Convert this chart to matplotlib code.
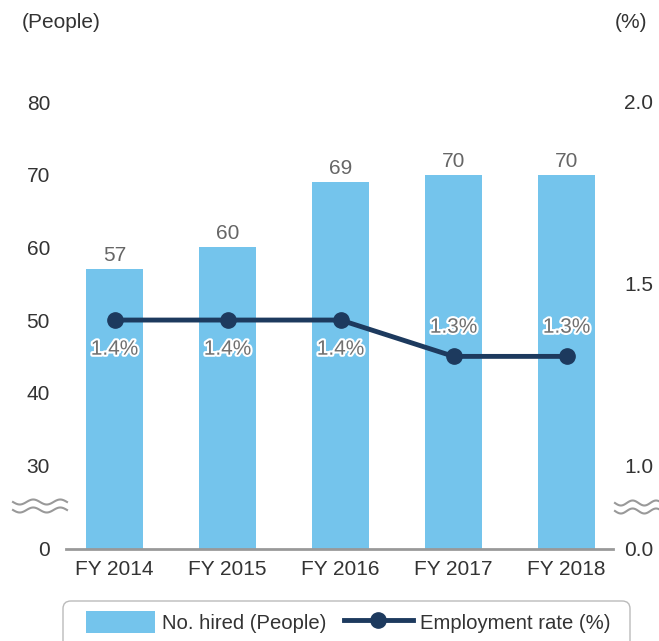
import numpy as np
import matplotlib
matplotlib.use("Agg")
import matplotlib.pyplot as plt
import matplotlib.patheffects as pe
from matplotlib.lines import Line2D
from matplotlib.patches import Patch, FancyBboxPatch

plt.rcParams['font.family'] = ['Liberation Sans', 'DejaVu Sans']

years = ["FY 2014", "FY 2015", "FY 2016", "FY 2017", "FY 2018"]
hired = [57, 60, 69, 70, 70]
rate = [1.4, 1.4, 1.4, 1.3, 1.3]
rate_labels = ["1.4%", "1.4%", "1.4%", "1.3%", "1.3%"]
left_ticks = [0, 30, 40, 50, 60, 70, 80]
right_ticks = [0.0, 1.0, 1.5, 2.0]

BAR_COLOR = "#74c4ec"
LINE_COLOR = "#1d3a5e"
TEXT_COLOR = "#333333"
LABEL_GRAY = "#666666"
FS = 15

# broken axis: 0..30 squeezed into a short stub below 30
ZERO_POS = 18.5


def fwd_people(y):
    y = np.asarray(y, dtype=float)
    return np.where(y >= 30, y, ZERO_POS + y * (30 - ZERO_POS) / 30)


def inv_people(v):
    v = np.asarray(v, dtype=float)
    return np.where(v >= 30, v, (v - ZERO_POS) * 30 / (30 - ZERO_POS))


def fwd_rate(r):
    r = np.asarray(r, dtype=float)
    return np.where(r >= 1, 30 + (r - 1) * 50, ZERO_POS + r * (30 - ZERO_POS))


def inv_rate(v):
    v = np.asarray(v, dtype=float)
    return np.where(v >= 30, 1 + (v - 30) / 50, (v - ZERO_POS) / (30 - ZERO_POS))


W, H = 659, 641
fig = plt.figure(figsize=(W / 100, H / 100), dpi=100)
ax = fig.add_axes([66 / W, (H - 549) / H, (613 - 66) / W, (549 - 102) / H])
ax2 = ax.twinx()

ax.set_yscale('function', functions=(fwd_people, inv_people))
ax2.set_yscale('function', functions=(fwd_rate, inv_rate))

x = np.arange(len(years))
bars = ax.bar(x, hired, width=0.5, color=BAR_COLOR, zorder=2)
for xi, v in zip(x, hired):
    ax.annotate(str(v), (xi, v), xytext=(0, 3), textcoords='offset points',
                ha='center', va='bottom', fontsize=FS, color=LABEL_GRAY)

ax2.plot(x, rate, color=LINE_COLOR, lw=3.5, marker='o', ms=11, zorder=3)
for i, (xi, r) in enumerate(zip(x, rate)):
    dy = -21 if r >= 1.4 else 21
    ax2.annotate(rate_labels[i], (xi, r), xytext=(0, dy), textcoords='offset points',
                 ha='center', va='center', fontsize=FS, color='#707070',
                 path_effects=[pe.withStroke(linewidth=3, foreground='white')])

ax.set_xlim(-0.43, 4.41)
ax.set_ylim(0, 80)
ax2.set_ylim(0, 2.0)

ax.set_xticks(x)
ax.set_xticklabels(years)
ax.set_yticks(left_ticks)
ax.set_yticklabels([str(t) for t in left_ticks])
ax2.set_yticks(right_ticks)
ax2.set_yticklabels([f"{t:.1f}" for t in right_ticks])
for lbl in ax2.get_yticklabels():
    lbl.set_horizontalalignment('right')

ax.tick_params(axis='x', length=0, pad=8, labelsize=FS, labelcolor=TEXT_COLOR)
ax.tick_params(axis='y', length=0, pad=11.5, labelsize=FS, labelcolor=TEXT_COLOR)
ax2.tick_params(axis='y', length=0, pad=29, labelsize=FS, labelcolor=TEXT_COLOR)

for a in (ax, ax2):
    for side in ('top', 'left', 'right', 'bottom'):
        a.spines[side].set_visible(False)
ax.spines['bottom'].set_visible(True)
ax.spines['bottom'].set_color('#999999')
ax.spines['bottom'].set_linewidth(2)

# axis units
fig.text(22 / W, 1 - 22 / H, "(People)", fontsize=FS, color=TEXT_COLOR, va='center')
fig.text(647 / W, 1 - 22 / H, "(%)", fontsize=FS, color=TEXT_COLOR, va='center', ha='right')

# wavy break marks on both sides
def wave(x0, x1, yc):
    px = np.linspace(x0, x1, 80)
    py = yc + 2.5 * np.sin((px - x0) / (x1 - x0) * 4 * np.pi)
    fig.add_artist(Line2D(px / W, 1 - py / H, color='#999999', lw=1.5))

wave(13, 67, 502)
wave(13, 67, 510)
wave(615, 662, 503)
wave(615, 662, 511)

# legend box runs off the bottom edge
fig.add_artist(FancyBboxPatch((63 / W, -0.05), (630 - 63) / W, (H - 601) / H + 0.05,
                              boxstyle='round,pad=0,rounding_size=0.012',
                              transform=fig.transFigure, facecolor='white',
                              edgecolor='#bbbbbb', lw=1, zorder=0))

handles = [Patch(facecolor=BAR_COLOR, edgecolor='none'),
           Line2D([], [], color=LINE_COLOR, lw=3.5, marker='o', ms=11)]
leg = fig.legend(handles, ["No. hired (People)", "Employment rate (%)"],
                 loc='upper left', bbox_to_anchor=(86 / W, 1 - 611 / H),
                 ncol=2, fontsize=14.6, frameon=False,
                 handlelength=3.4, handleheight=1.3, handletextpad=0.35,
                 columnspacing=0.85, borderpad=0, borderaxespad=0)
for t in leg.get_texts():
    t.set_color(TEXT_COLOR)

fig.savefig("out.png", dpi=100)
